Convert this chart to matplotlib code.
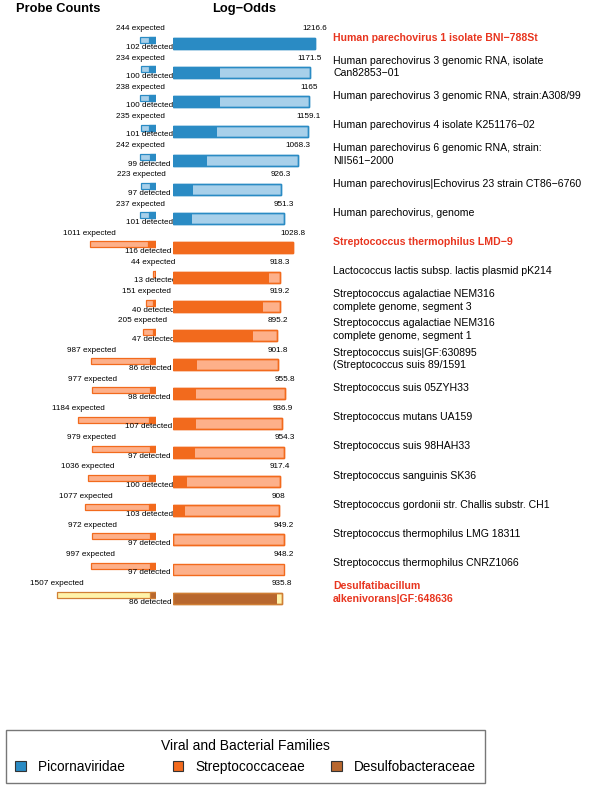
import matplotlib
matplotlib.use("Agg")
import matplotlib.pyplot as plt
import matplotlib.transforms as mtransforms
from matplotlib.patches import Patch

plt.rcParams['font.family'] = ['Liberation Sans', 'DejaVu Sans']

names = [
    "Human parechovirus 1 isolate BNI\u2212788St",
    "Human parechovirus 3 genomic RNA, isolate\nCan82853\u221201",
    "Human parechovirus 3 genomic RNA, strain:A308/99",
    "Human parechovirus 4 isolate K251176\u221202",
    "Human parechovirus 6 genomic RNA, strain:\nNII561\u22122000",
    "Human parechovirus|Echovirus 23 strain CT86\u22126760",
    "Human parechovirus, genome",
    "Streptococcus thermophilus LMD\u22129",
    "Lactococcus lactis subsp. lactis plasmid pK214",
    "Streptococcus agalactiae NEM316\ncomplete genome, segment 3",
    "Streptococcus agalactiae NEM316\ncomplete genome, segment 1",
    "Streptococcus suis|GF:630895\n(Streptococcus suis 89/1591",
    "Streptococcus suis 05ZYH33",
    "Streptococcus mutans UA159",
    "Streptococcus suis 98HAH33",
    "Streptococcus sanguinis SK36",
    "Streptococcus gordonii str. Challis substr. CH1",
    "Streptococcus thermophilus LMG 18311",
    "Streptococcus thermophilus CNRZ1066",
    "Desulfatibacillum\nalkenivorans|GF:648636",
]
expected = [244, 234, 238, 235, 242, 223, 237, 1011, 44, 151, 205,
            987, 977, 1184, 979, 1036, 1077, 972, 997, 1507]
detected = [102, 100, 100, 101, 99, 97, 101, 116, 13, 40, 47,
            86, 98, 107, 97, 100, 103, 97, 97, 86]
log_odds = [1216.6, 1171.5, 1165, 1159.1, 1068.3, 926.3, 951.3, 1028.8,
            918.3, 919.2, 895.2, 901.8, 955.8, 936.9, 954.3, 917.4,
            908, 949.2, 948.2, 935.8]
# darker part of the log-odds bar
log_odds_dark = [1216.6, 405, 405, 380, 297, 171, 169, 1028.8,
                 825, 771, 683, 206, 203, 200, 194, 120,
                 103, 14, 0, 891]
family = ["Picornaviridae"] * 7 + ["Streptococcaceae"] * 12 + ["Desulfobacteraceae"]
highlight = [0, 7, 19]

families = ["Picornaviridae", "Streptococcaceae", "Desulfobacteraceae"]
dark_col = {"Picornaviridae": "#2a8bc4",
            "Streptococcaceae": "#f26a1d",
            "Desulfobacteraceae": "#b8672e"}
light_col = {"Picornaviridae": "#a8d0ea",
             "Streptococcaceae": "#fdb08a",
             "Desulfobacteraceae": "#fff3aa"}
edge_col = {"Picornaviridae": "#2a8bc4",
            "Streptococcaceae": "#f26a1d",
            "Desulfobacteraceae": "#d07f35"}

W, H = 600, 798
fig = plt.figure(figsize=(6, 7.98), dpi=100)

# rows are spaced 29.2 px, first bar centre at 43.5 px
row_px = 29.2
y_top = -43.5 / row_px
y_bot = (H - 43.5) / row_px

ax1 = fig.add_axes([0, 0, 156 / W, 1])
ax1.set_xlim(156 / 0.0655, 0)
ax1.set_ylim(y_bot, y_top)
ax1.axis('off')

ax2 = fig.add_axes([172.7 / W, 0, 1 - 172.7 / W, 1])
ax2.set_xlim(0, (W - 172.7) / 0.117)
ax2.set_ylim(y_bot, y_top)
ax2.axis('off')

rows = list(range(len(names)))
for i in rows:
    f = family[i]
    # probe counts
    ax1.barh(i - 0.12, expected[i], height=0.2, left=0, color=light_col[f],
             edgecolor=edge_col[f], linewidth=0.9)
    ax1.barh(i - 0.12, detected[i], height=0.2, left=0, color=dark_col[f],
             edgecolor=edge_col[f], linewidth=0.9)
    ax1.text(expected[i], i - 0.5, f"{expected[i]} expected", ha='center',
             va='center', fontsize=5.9)
    ax1.text(detected[i], i + 0.13, f"{detected[i]} detected", ha='center',
             va='center', fontsize=5.9)
    # log-odds
    ax2.barh(i, log_odds[i], height=0.38, left=0, color=light_col[f],
             edgecolor=edge_col[f], linewidth=1.0)
    if log_odds_dark[i] > 0:
        ax2.barh(i, log_odds_dark[i], height=0.38, left=0, color=dark_col[f],
                 edgecolor='none')
        ax2.barh(i, log_odds[i], height=0.38, left=0, color='none',
                 edgecolor=edge_col[f], linewidth=1.0)
    ax2.text(log_odds[i], i - 0.5, f"{log_odds[i]:g}", ha='center',
             va='center', fontsize=5.9)

trans = mtransforms.blended_transform_factory(fig.transFigure, ax2.transData)
for i in rows:
    if i in highlight:
        ax2.text(333 / W, i - 0.2, names[i], transform=trans, ha='left',
                 va='center', fontsize=7.6, fontweight='bold', color='#e8351f',
                 linespacing=1.3)
    else:
        ax2.text(333 / W, i - 0.2, names[i], transform=trans, ha='left',
                 va='center', fontsize=7.6, linespacing=1.3)

fig.text(58 / W, 1 - 9 / H, "Probe Counts", ha='center', va='center',
         fontsize=9.3, fontweight='bold')
fig.text(244 / W, 1 - 9 / H, "Log\u2212Odds", ha='center', va='center',
         fontsize=9.3, fontweight='bold')

handles = [Patch(facecolor=dark_col[f], edgecolor='#333333', linewidth=0.8)
           for f in families]
labels = ["Picornaviridae      ", "Streptococcaceae", "Desulfobacteraceae"]
leg = fig.legend(handles, labels, loc='upper left',
                 bbox_to_anchor=(6 / W, 1 - 730 / H), borderaxespad=0,
                 ncol=3, title="Viral and Bacterial Families", title_fontsize=10,
                 fontsize=9.8, frameon=True, fancybox=False, edgecolor='#555555',
                 handlelength=0.8, handleheight=0.8, handletextpad=0.9,
                 columnspacing=1.85, borderpad=0.65)
leg.get_frame().set_linewidth(1.0)

fig.savefig("out.png", dpi=100)
